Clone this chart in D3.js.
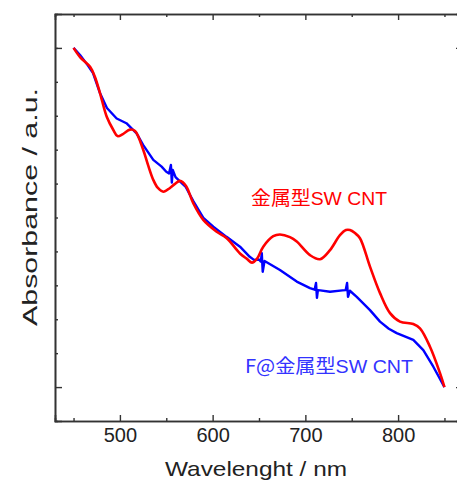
<!DOCTYPE html>
<html><head><meta charset="utf-8">
<script src="https://cdn.jsdelivr.net/npm/d3@7"></script>
<style>body{margin:0;background:#fff}svg{display:block}</style>
</head><body>
<svg id="c" width="457" height="484"></svg>
<script>
// ---- data ----
const xMajorTicks = [500, 600, 700, 800];
const xMinorTicks = [450, 550, 650, 750, 850];
const yMajorTicks = [0, 1];
const yMinorTicks = [0.1,0.2,0.3,0.4,0.5,0.6,0.7,0.8,0.9,1.0];

const redW = [450,457,468,473,478.5,485.8,492.9,497.4,503.3,510.9,516.3,525.2,530.3,536,541,546.8,554,559.4,564.8,571.3,579.1,589.9,604.4,615.2,629.5,637,642.4,647.8,654.6,665.4,672.6,683.4,690.7,705,715.8,726.6,737.3,743.8,748.1,753.5,758.9,769.7,780.5,791.3,802,816.4,823.6,834.4,845.2,850];
const redV = [1.0,0.973,0.944,0.915,0.867,0.797,0.758,0.740,0.746,0.759,0.755,0.699,0.655,0.611,0.587,0.576,0.587,0.599,0.608,0.593,0.542,0.493,0.458,0.439,0.394,0.378,0.367,0.378,0.414,0.445,0.450,0.442,0.429,0.389,0.377,0.404,0.448,0.463,0.463,0.454,0.439,0.355,0.277,0.218,0.193,0.186,0.173,0.119,0.041,0.0];

const blueW = [450,457,465,471,478.5,486,496.5,507,518,525,536,545,550,553,555,556,557,560,565,571,579,590,600.7,615,629.5,640,644.6,650,652,653,654,656,672.6,690.7,705,710,711.5,712.5,713.5,716,726.6,740,743.5,745,746,748,755.4,769.7,780.5,790,798.5,816.4,827.2,838,850];
const blueV = [1.0,0.979,0.95,0.926,0.867,0.823,0.792,0.778,0.748,0.714,0.670,0.65,0.635,0.630,0.655,0.603,0.640,0.619,0.606,0.590,0.549,0.499,0.473,0.443,0.414,0.384,0.375,0.376,0.37,0.395,0.34,0.372,0.345,0.311,0.292,0.287,0.307,0.263,0.286,0.285,0.281,0.285,0.286,0.307,0.266,0.284,0.266,0.227,0.193,0.172,0.159,0.139,0.109,0.060,0.0];

const xTitle = "Wavelenght / nm";
const yTitle = "Absorbance / a.u.";
const redLabel = ["金属型", "SW CNT"];
const blueLabel = ["F@金属型", "SW CNT"];

// ---- layout ----
const L = 55, R = 463, T = 14, B = 421;
const svg = d3.select("#c");
const x = d3.scaleLinear().domain([430, 870]).range([L, R]);
const y = d3.scaleLinear().domain([-0.1, 1.1]).range([B, T]);
const axisColor = "#333";
const font = "'Liberation Sans', Arial, sans-serif";

function styleAxis(g){
  g.select(".domain").attr("stroke", axisColor).attr("stroke-width", 1.6);
  g.selectAll(".tick line").attr("stroke", axisColor).attr("stroke-width", 1.4);
  g.selectAll("text").attr("fill", "#222").style("font-family", font).style("font-size", "20px");
}

// bottom
svg.append("g").attr("transform", `translate(0,${B})`)
  .call(d3.axisBottom(x).tickValues(xMajorTicks).tickSize(-6).tickPadding(7).tickFormat(d3.format("d")))
  .call(styleAxis);
svg.append("g").attr("transform", `translate(0,${B})`)
  .call(d3.axisBottom(x).tickValues(xMinorTicks).tickSize(-3).tickFormat(""))
  .call(styleAxis);
// top
svg.append("g").attr("transform", `translate(0,${T})`)
  .call(d3.axisTop(x).tickValues(xMajorTicks).tickSize(-6).tickFormat(""))
  .call(styleAxis);
svg.append("g").attr("transform", `translate(0,${T})`)
  .call(d3.axisTop(x).tickValues(xMinorTicks).tickSize(-3).tickFormat(""))
  .call(styleAxis);
// left
svg.append("g").attr("transform", `translate(${L},0)`)
  .call(d3.axisLeft(y).tickValues(yMajorTicks).tickSize(-7).tickFormat(""))
  .call(styleAxis);
svg.append("g").attr("transform", `translate(${L},0)`)
  .call(d3.axisLeft(y).tickValues(yMinorTicks).tickSize(-3).tickFormat(""))
  .call(styleAxis);
// right
svg.append("g").attr("transform", `translate(${R},0)`)
  .call(d3.axisRight(y).tickValues(yMajorTicks).tickSize(-7).tickFormat(""))
  .call(styleAxis);

// lines
const redData = redW.map((w,i)=>[w, redV[i]]);
const blueData = blueW.map((w,i)=>[w, blueV[i]]);
svg.append("path").datum(blueData)
  .attr("fill","none").attr("stroke","#0000ff").attr("stroke-width",2.4).attr("stroke-linejoin","round")
  .attr("d", d3.line().x(d=>x(d[0])).y(d=>y(d[1])));
svg.append("path").datum(redData)
  .attr("fill","none").attr("stroke","#ff0000").attr("stroke-width",2.6).attr("stroke-linejoin","round")
  .attr("d", d3.line().curve(d3.curveCatmullRom.alpha(0.5)).x(d=>x(d[0])).y(d=>y(d[1])));

// labels
function label(parts, xp, yp, color, len){
  const t = svg.append("text").attr("x", xp).attr("y", yp).attr("fill", color)
    .attr("textLength", len).attr("lengthAdjust","spacingAndGlyphs");
  t.append("tspan").text(parts[0]).style("font-family","'Noto Sans CJK JP', sans-serif").style("font-size","19px");
  t.append("tspan").text(parts[1]).style("font-family",font).style("font-size","18.5px");
}
label(redLabel, 251, 205, "#ff0000", 136);
label(blueLabel, 245, 373, "#3333ff", 168);

// titles
svg.append("text").attr("x", 165).attr("y", 476)
  .attr("textLength", 182).attr("lengthAdjust","spacingAndGlyphs")
  .style("font-family", font).style("font-size","21px").attr("fill","#222").text(xTitle);
svg.append("text").attr("transform","translate(37,326) rotate(-90)")
  .attr("textLength", 238).attr("lengthAdjust","spacingAndGlyphs")
  .style("font-family", font).style("font-size","21px").attr("fill","#222").text(yTitle);
</script>
</body></html>
